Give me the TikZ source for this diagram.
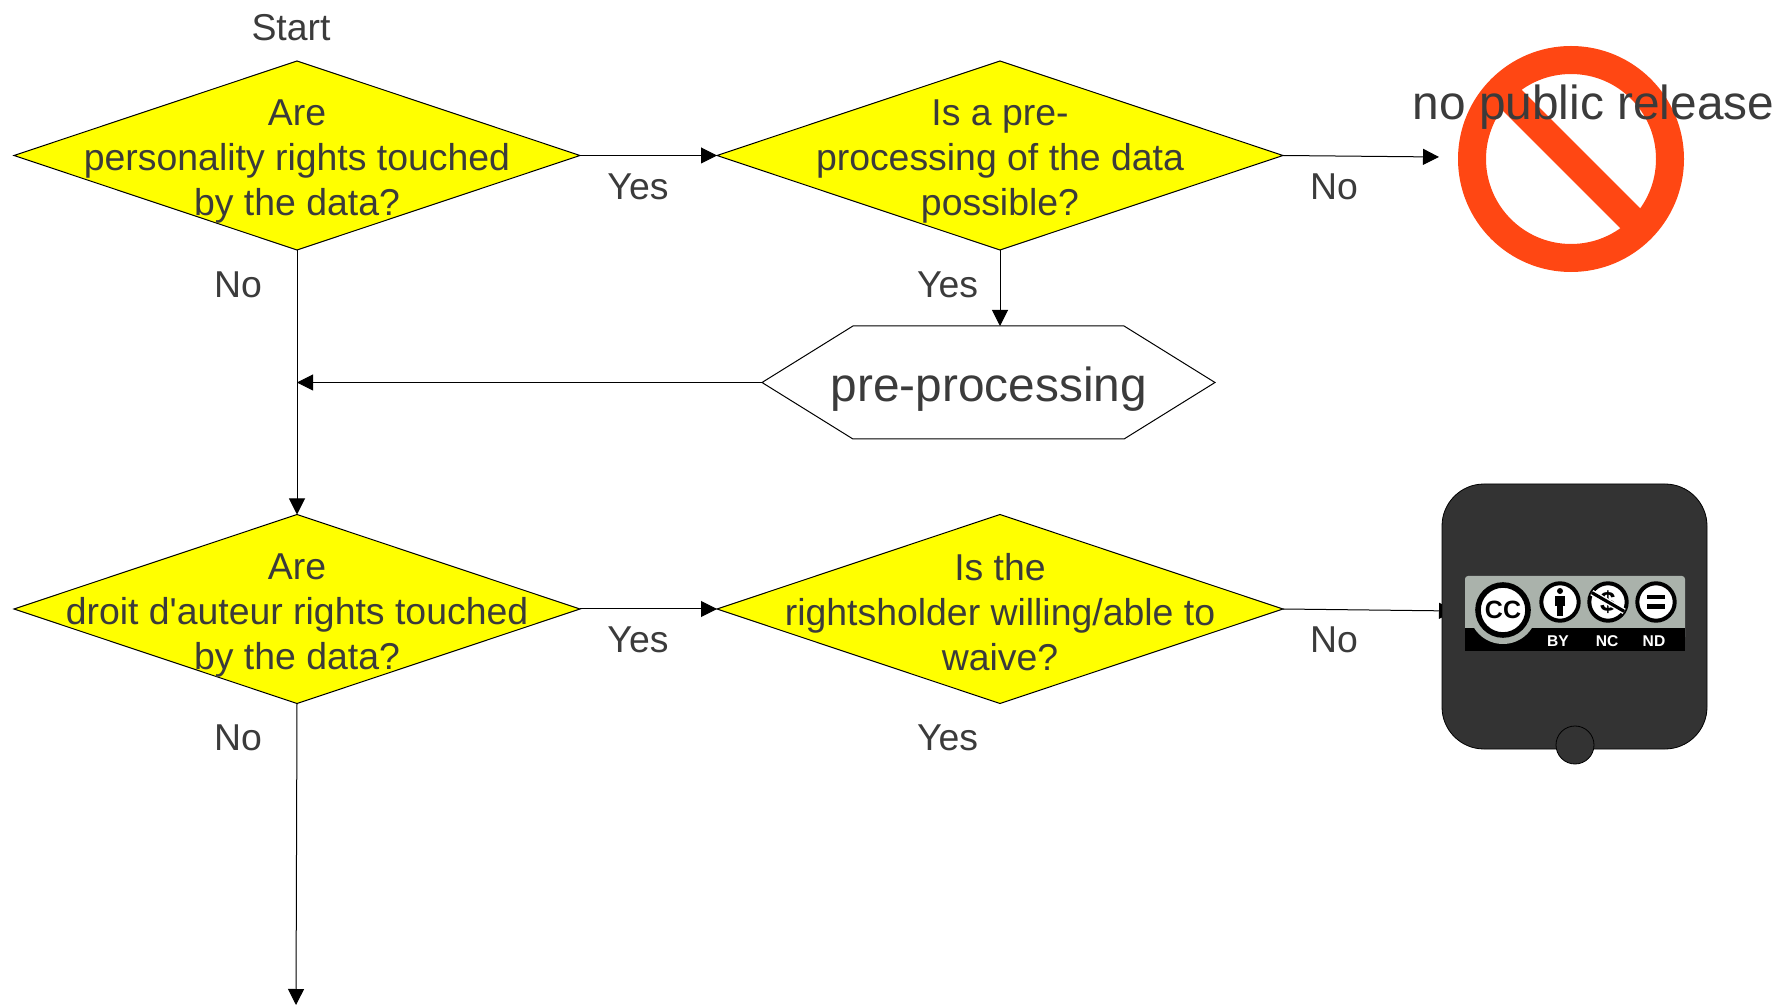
\documentclass[tikz,border=0pt]{standalone}
\usepackage{fontspec}
\setmainfont[Ligatures=TeXOff]{Liberation Sans}
\usetikzlibrary{arrows.meta,shapes.geometric,shapes.symbols}
\definecolor{inkgray}{HTML}{3B3B3B}
\definecolor{boxgray}{HTML}{333333}
\definecolor{forbidred}{HTML}{FF4713}
\definecolor{badgegray}{HTML}{AAB2AB}
\definecolor{questionyellow}{HTML}{FFFF00}
\tikzset{
    decision/.style={diamond, draw=black, line width=0.5pt, fill=questionyellow, inner sep=0pt, outer sep=0pt, minimum width=283pt, minimum height=94.5pt},
    decisiontext/.style={align=center, text=inkgray, yshift=-3.2pt, font=\fontsize{18.7}{22.5}\selectfont, execute at end node={\vphantom{y}}},
    answer/.style={text=inkgray, inner sep=0pt, font=\fontsize{18.7}{22.5}\selectfont},
    bigtext/.style={text=inkgray, inner sep=0pt, font=\fontsize{23.9}{28}\selectfont},
    processbox/.style={signal, signal to=west and east, signal pointer angle=63.7, draw=black, line width=0.5pt, inner sep=0pt, outer sep=0pt, minimum width=226.5pt, minimum height=56.5pt},
    flow/.style={draw=black, line width=0.5pt, -{Triangle[length=8pt,width=8pt]}},
    forbid/.style={circle, draw=forbidred, line width=14pt, inner sep=0pt, outer sep=0pt, minimum size=99pt},
    licensebox/.style={rounded corners=21pt, draw=black, line width=0.4pt, fill=boxgray},
    termicon/.style={circle, draw=black, line width=2pt, fill=white, inner sep=0pt, outer sep=0pt, minimum size=18.7pt},
    termtext/.style={text=white, inner sep=0pt, font=\bfseries\fontsize{7.8}{8}\selectfont}
}
\begin{document}
\begin{tikzpicture}[x=0.5pt, y=-0.5pt]
    \useasboundingbox (0,0) rectangle (1779,1005);
    \node[answer] (start) at (291,28) {Start};

    \node[decision] (personality) at (297,155.5) {};
    \node[decisiontext] (personalitytext) at (personality.center) {Are\\personality rights touched\\by the data?};
    \node[decision] (preq) at (1000,155.5) {};
    \node[decisiontext] (preqtext) at (preq.center) {Is a pre-\\processing of the data\\possible?};
    \node[decision] (auteur) at (297,609) {};
    \node[decisiontext] (auteurtext) at (auteur.center) {Are\\droit d'auteur rights touched\\by the data?};
    \node[decision] (waive) at (1000,609) {};
    \node[decisiontext] (waivetext) at (waive.center) {Is the\\rightsholder willing/able to\\waive?};

    \node[processbox] (prep) at (988.5,382.5) {};
    \node[bigtext] (preptext) at (989,389.5) {pre-processing};

    \coordinate (norelease) at (1439,157);
    \coordinate (nolicense) at (1455,611);
    \coordinate (theend) at (296,1005);

    \draw[flow] (personality.east) -- (preq.west);
    \draw[flow] (preq.east) -- (norelease);
    \draw[flow] (preq.south) -- (preq.south |- prep.north);
    \draw[flow] (prep.west) -- (prep.west -| personality.south);
    \draw[flow] (personality.south) -- (auteur.north);
    \draw[flow] (auteur.east) -- (waive.west);
    \draw[flow] (waive.east) -- (nolicense);
    \draw[flow] (auteur.south) -- (theend);

    \node[answer] (yesa) at (638,187) {Yes};
    \node[answer] (noa) at (1334,187) {No};
    \node[answer] (nob) at (238,285) {No};
    \node[answer] (yesb) at (947.5,285) {Yes};
    \node[answer] (yesc) at (638,640) {Yes};
    \node[answer] (noc) at (1334,640) {No};
    \node[answer] (nod) at (238,738) {No};
    \node[answer] (yesd) at (947.5,738) {Yes};

    \node[forbid] (stopsign) at (1571,159) {};
    \draw[forbidred, line width=14pt] (stopsign.135) -- (stopsign.-45);
    \node[bigtext] (stoptext) at (1593.5,107.5) {no public release};

    \draw[licensebox] (1442,484) rectangle (1707,749);
    \fill[draw=black, line width=0.4pt, fill=boxgray] (1575,745) circle (19);
    \fill[rounded corners=1.5pt, badgegray] (1465,576) rectangle (1685,640);
    \fill[black] (1465,628) rectangle (1685,651);
    \fill[badgegray] (1503,610) circle (34);
    \node[circle, draw=black, line width=2.8pt, fill=white, inner sep=0pt, outer sep=0pt, minimum size=25pt] (ccicon) at (1503,610) {};
    \node[inner sep=0pt, font=\bfseries\fontsize{12.5}{13}\selectfont] (cctext) at (ccicon.center) {CC};
    \node[termicon] (byicon) at (1560,602) {};
    \fill[black] (1560,591) circle (3);
    \fill[black] (1555,596) rectangle (1565,606);
    \fill[black] (1557,606) rectangle (1563,616);
    \node[termicon] (ncicon) at (1608,602) {};
    \node[inner sep=0pt, font=\bfseries\fontsize{14}{15}\selectfont] (nctext) at (ncicon.center) {\$};
    \draw[white, line width=3pt] (ncicon.150) -- (ncicon.-30);
    \draw[black, line width=1.6pt] (ncicon.150) -- (ncicon.-30);
    \node[termicon] (ndicon) at (1656,602) {};
    \fill[black] (1647,595) rectangle (1665,599.5);
    \fill[black] (1647,604.5) rectangle (1665,609);
    \node[termtext] (bytext) at (1558,641) {BY};
    \node[termtext] (ncname) at (1607,641) {NC};
    \node[termtext] (ndname) at (1654,641) {ND};
\end{tikzpicture}
\end{document}
